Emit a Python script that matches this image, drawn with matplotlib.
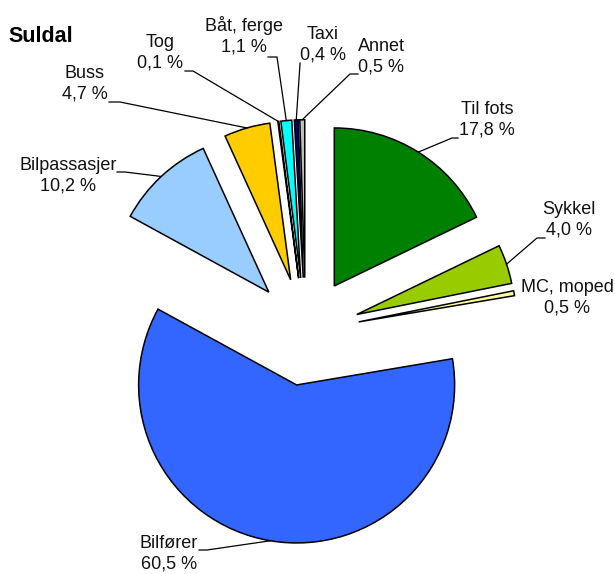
import numpy as np
import matplotlib.pyplot as plt

plt.rcParams['font.family'] = ['Liberation Sans', 'DejaVu Sans']

# travel mode shares, Suldal
modes = ["Til fots", "Sykkel", "MC, moped", "Bilfører", "Bilpassasjer",
         "Buss", "Tog", "Båt, ferge", "Taxi", "Annet"]
shares = [17.8, 4.0, 0.5, 60.5, 10.2, 4.7, 0.1, 1.1, 0.4, 0.5]
colors = ["#008000", "#99CC00", "#FFFF99", "#3366FF", "#99CCFF",
          "#FFCC00", "#FFFFFF", "#00FFFF", "#000080", "#C0C0C0"]

# layout in pixels (x right, y down) -> pie units
W, H = 615, 574
cx, cy, R = 305.6, 331.7, 158.0
def P(x, y):
    return (x - cx) / R, (cy - y) / R

# label block centres and leader ticks (start, elbow), pixels
label_pos = [(487, 120), (569, 220), (567, 298), (169, 554), (68, 176),
             (85, 84), (160, 53), (244, 36), (323, 45), (381, 57)]
leaders = [((458, 138), (452, 138)),
           ((545, 238), (537, 238)),
           None,
           ((199, 550), (207, 550)),
           ((117, 172), (125, 172)),
           ((109, 102), (120, 102)),
           ((185, 71), (193, 71)),
           ((268, 57), (277, 57)),
           ((300, 63), (300, 64)),
           ((358, 74), (350, 74))]

fig = plt.figure(figsize=(W / 100, H / 100), dpi=100)
ax = fig.add_axes([0, 0, 1, 1])

wedges, _ = ax.pie(shares, colors=colors, startangle=90, counterclock=False,
                   explode=[54 / R] * len(shares),
                   wedgeprops=dict(edgecolor="black", linewidth=1.1))

for i, (name, val) in enumerate(zip(modes, shares)):
    tx, ty = P(*label_pos[i])
    ax.text(tx, ty, f"{name}\n{val:.1f} %".replace(".", ","), ha="center",
            va="center", fontsize=13, linespacing=1.3, color="#111111")
    if leaders[i] is None:
        continue
    w = wedges[i]
    th = np.deg2rad((w.theta1 + w.theta2) / 2)
    ex = w.center[0] + w.r * np.cos(th)
    ey = w.center[1] + w.r * np.sin(th)
    (x0, y0), (x1, y1) = leaders[i]
    sx, sy = P(x0, y0)
    kx, ky = P(x1, y1)
    ax.plot([sx, kx, ex], [sy, ky, ey], color="black", lw=0.9)

tx, ty = P(8, 36)
ax.text(tx, ty, "Suldal", ha="left", va="center", fontsize=15.5,
        fontweight="bold")

ax.set_xlim(P(0, 0)[0], P(W, 0)[0])
ax.set_ylim(P(0, H)[1], P(0, 0)[1])
ax.set_aspect("auto")
ax.axis("off")

fig.savefig("out.png", dpi=100)
